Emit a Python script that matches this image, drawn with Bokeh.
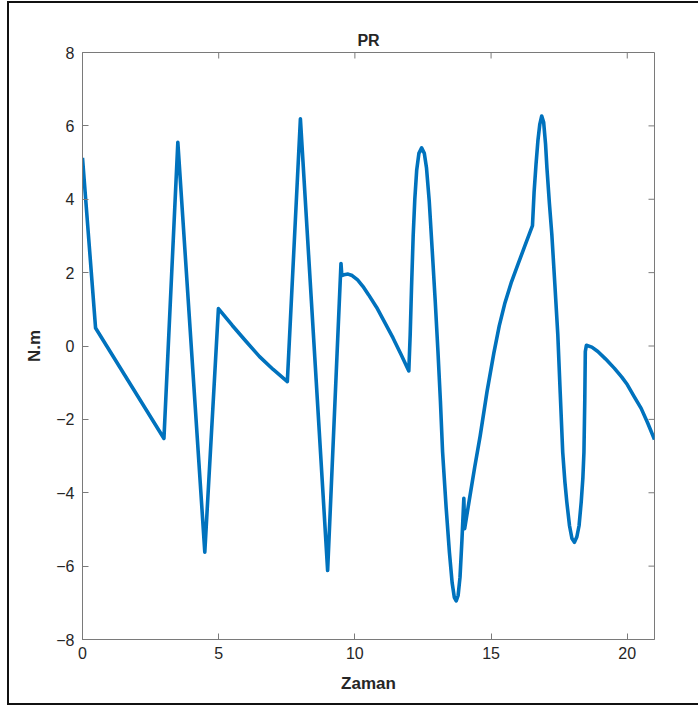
from bokeh.plotting import figure
from bokeh.layouts import column
from bokeh.models import Range1d, FixedTicker
from bokeh.embed import file_html
from bokeh.resources import INLINE

# Data (time vs torque)
zaman = [0.0, 0.48, 2.99, 3.5, 4.49, 4.99, 5.5, 6.0, 6.5, 7.0, 7.52, 8.0, 9.0,
         9.49, 9.52, 9.6, 9.75, 9.9, 10.1, 10.3, 10.5, 10.8, 11.1, 11.4, 11.7,
         11.98, 12.03, 12.08, 12.14, 12.2, 12.27, 12.35, 12.45, 12.55, 12.63,
         12.73, 12.84, 12.95, 13.05, 13.14, 13.22, 13.35, 13.47, 13.57, 13.65,
         13.72, 13.79, 13.86, 13.93, 14.0, 14.03, 14.2, 14.4, 14.6, 14.85, 15.1,
         15.3, 15.5, 15.75, 16.0, 16.25, 16.52, 16.58, 16.65, 16.72, 16.79, 16.86,
         16.93, 17.0, 17.05, 17.14, 17.23, 17.34, 17.45, 17.54, 17.63, 17.71,
         17.78, 17.88, 17.97, 18.06, 18.15, 18.23, 18.31, 18.37, 18.41, 18.44,
         18.46, 18.5, 18.7, 18.92, 19.2, 19.53, 19.8, 20.0, 20.27, 20.51, 20.75,
         21.0]
pr = [5.13, 0.49, -2.52, 5.55, -5.62, 1.02, 0.56, 0.13, -0.29, -0.64, -0.97, 6.19,
      -6.12, 2.25, 1.92, 1.94, 1.96, 1.92, 1.8, 1.62, 1.4, 1.05, 0.64, 0.22, -0.24,
      -0.68, 0.3, 1.6, 3.0, 4.0, 4.8, 5.25, 5.4, 5.25, 4.85, 3.95, 2.6, 1.22, -0.15,
      -1.5, -2.89, -4.4, -5.62, -6.45, -6.85, -6.95, -6.8, -6.3, -5.3, -4.15, -4.98,
      -4.2, -3.3, -2.45, -1.25, -0.2, 0.55, 1.15, 1.75, 2.25, 2.75, 3.28, 4.2, 4.95,
      5.6, 6.05, 6.27, 6.1, 5.5, 4.86, 3.9, 3.05, 1.7, 0.31, -1.3, -2.89, -3.7,
      -4.25, -4.9, -5.25, -5.35, -5.2, -4.9, -4.25, -3.6, -2.89, -1.5, -0.15, 0.02,
      -0.03, -0.15, -0.35, -0.61, -0.85, -1.05, -1.4, -1.7, -2.1, -2.55]

x_ticks = [0, 5, 10, 15, 20]
y_ticks = [-8, -6, -4, -2, 0, 2, 4, 6, 8]
x_lim = (0, 21)
y_lim = (-8, 8)

TEXT = "#262626"
AXC = "#7a7a7a"
FONT = "Liberation Sans"

W, H = 689, 700
BL, BR, BT, BB = 73, 44, 49, 64
TICK_PX = 6

p = figure(width=W, height=H, output_backend="svg", toolbar_location=None,
           x_range=Range1d(*x_lim), y_range=Range1d(*y_lim),
           min_border_left=BL, min_border_right=BR, min_border_top=BT,
           min_border_bottom=BB, title="PR")

p.line(zaman, pr, line_color="#0072BD", line_width=3.6, line_join="round")

# inward ticks on the top and right edges of the box (MATLAB "box on")
fw = W - BL - BR
fh = H - BT - BB
dx = TICK_PX * (x_lim[1] - x_lim[0]) / fw
dy = TICK_PX * (y_lim[1] - y_lim[0]) / fh
p.segment(x0=x_ticks, x1=x_ticks, y0=[y_lim[1]] * len(x_ticks),
          y1=[y_lim[1] - dy] * len(x_ticks), line_color=AXC, line_width=1)
p.segment(x0=[x_lim[1]] * len(y_ticks), x1=[x_lim[1] - dx] * len(y_ticks),
          y0=y_ticks, y1=y_ticks, line_color=AXC, line_width=1)

p.grid.visible = False
p.outline_line_color = AXC
p.outline_line_width = 1
p.background_fill_color = "white"
p.border_fill_color = "white"

p.title.align = "center"
p.title.text_font = FONT
p.title.text_font_size = "16px"
p.title.text_font_style = "bold"
p.title.text_color = TEXT
p.title.offset = 0
p.title.standoff = 7

for ax in (p.xaxis[0], p.yaxis[0]):
    ax.axis_line_color = AXC
    ax.major_tick_line_color = AXC
    ax.major_tick_in = TICK_PX
    ax.major_tick_out = 0
    ax.minor_tick_line_color = None
    ax.major_label_text_font = FONT
    ax.major_label_text_font_size = "16px"
    ax.major_label_text_color = TEXT
    ax.axis_label_text_font = FONT
    ax.axis_label_text_font_size = "17px"
    ax.axis_label_text_font_style = "bold"
    ax.axis_label_text_color = TEXT

p.xaxis[0].ticker = FixedTicker(ticks=x_ticks)
p.yaxis[0].ticker = FixedTicker(ticks=y_ticks)
p.xaxis[0].axis_label = "Zaman"
p.yaxis[0].axis_label = "N.m"
p.xaxis[0].major_label_standoff = 7
p.yaxis[0].major_label_standoff = 8
p.xaxis[0].axis_label_standoff = 12
p.yaxis[0].axis_label_standoff = 9

page = column(p, margin=(1, 0, 0, 7),
              styles={"border-left": "2px solid #111111",
                      "border-top": "2px solid #111111",
                      "border-bottom": "2px solid #111111"})

open("out.html", "w").write(file_html(page, INLINE))
